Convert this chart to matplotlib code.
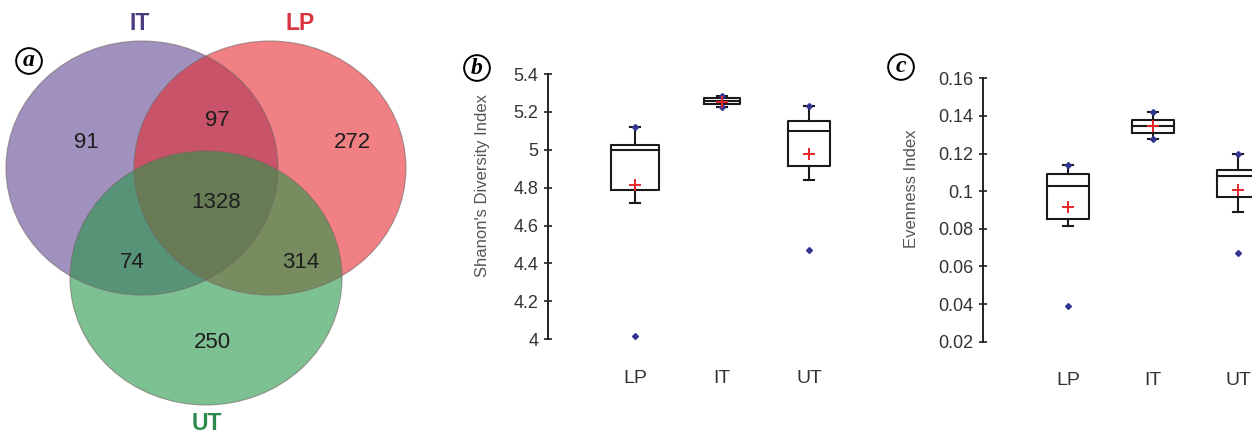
import matplotlib
matplotlib.use("Agg")
import matplotlib.pyplot as plt
from matplotlib.patches import Ellipse

# ---------------- data ----------------
venn_sets = ["IT", "LP", "UT"]
venn_region_labels = ["IT only", "IT&LP", "LP only", "all", "IT&UT", "LP&UT", "UT only"]
venn_counts = [91, 97, 272, 1328, 74, 314, 250]

groups = ["LP", "IT", "UT"]

shannon_q1 = [4.79, 5.243, 4.917]
shannon_med = [5.00, 5.260, 5.100]
shannon_q3 = [5.026, 5.272, 5.154]
shannon_whislo = [4.72, 5.225, 4.842]
shannon_whishi = [5.12, 5.284, 5.232]
shannon_mean = [4.816, 5.254, 4.977]
shannon_min = [4.02, 5.225, 4.47]
shannon_max = [5.12, 5.284, 5.232]
shannon_ticks = [4.0, 4.2, 4.4, 4.6, 4.8, 5.0, 5.2, 5.4]
shannon_ticklabels = ["4", "4.2", "4.4", "4.6", "4.8", "5", "5.2", "5.4"]

even_q1 = [0.085, 0.1309, 0.097]
even_med = [0.1027, 0.1346, 0.1081]
even_q3 = [0.1094, 0.1381, 0.1111]
even_whislo = [0.0815, 0.1277, 0.0891]
even_whishi = [0.1138, 0.1420, 0.1196]
even_mean = [0.0917, 0.1348, 0.1004]
even_min = [0.0392, 0.1277, 0.0669]
even_max = [0.1138, 0.1420, 0.1196]
even_ticks = [0.02, 0.04, 0.06, 0.08, 0.10, 0.12, 0.14, 0.16]
even_ticklabels = ["0.02", "0.04", "0.06", "0.08", "0.1", "0.12", "0.14", "0.16"]

# ---------------- figure ----------------
W, H = 1252, 434
DPI = 100
fig = plt.figure(figsize=(W / DPI, H / DPI), dpi=DPI)
plt.rcParams['font.family'] = ['Liberation Sans', 'DejaVu Sans']

def px_axes(x0, y_top, x1, y_bot):
    return fig.add_axes([x0 / W, 1 - y_bot / H, (x1 - x0) / W, (y_bot - y_top) / H])

# ---------------- Venn (a) ----------------
axv = fig.add_axes([0, 0, 420 / W, 1])
axv.set_xlim(0, 420)
axv.set_ylim(434, 0)
axv.axis("off")

ell_style = {
    "IT": dict(center=(142, 168), color=(97/255, 72/255, 147/255)),
    "LP": dict(center=(270, 168), color=(230/255, 43/255, 48/255)),
    "UT": dict(center=(206, 278), color=(38/255, 150/255, 72/255)),
}
for name in venn_sets:
    st = ell_style[name]
    axv.add_patch(Ellipse(st["center"], 272, 254, facecolor=st["color"], alpha=0.6,
                          edgecolor="none", zorder=2))
for name in venn_sets:
    st = ell_style[name]
    axv.add_patch(Ellipse(st["center"], 272, 254, facecolor="none",
                          edgecolor=(0.45, 0.4, 0.4), lw=0.8, alpha=0.6, zorder=3))

region_pos = [(86, 143), (217, 120), (352, 142), (216, 203), (132, 262), (301, 262), (212, 343)]
for (x, y), c in zip(region_pos, venn_counts):
    axv.text(x, y, str(c), ha="center", va="center", fontsize=16, color="#1e1e1e", zorder=5)

set_label_pos = {"IT": (140, 23), "LP": (300, 23), "UT": (207, 424)}
set_label_col = {"IT": "#4b3a80", "LP": "#d8343e", "UT": "#2e8a4c"}
for name in venn_sets:
    x, y = set_label_pos[name]
    axv.text(x, y, name, ha="center", va="center", fontsize=16.5, fontweight="bold",
             color=set_label_col[name])

# ---------------- box plots ----------------
def make_stats(q1, med, q3, wlo, whi, mean, mn, mx):
    out = []
    for i in range(len(q1)):
        out.append(dict(q1=q1[i], med=med[i], q3=q3[i], whislo=wlo[i], whishi=whi[i],
                        mean=mean[i], fliers=[mn[i], mx[i]]))
    return out

def draw_box(ax, stats, ticks, ticklabels, ylim, ylabel, widths, ylabel_xy):
    ax.bxp(stats, positions=[1, 2, 3], widths=widths, capwidths=0.12,
           showmeans=True, showfliers=True, patch_artist=False,
           boxprops=dict(color="#1a1a1a", lw=1.5),
           medianprops=dict(color="#1a1a1a", lw=1.5),
           whiskerprops=dict(color="#1a1a1a", lw=1.5),
           capprops=dict(color="#1a1a1a", lw=1.5),
           meanprops=dict(marker="+", markeredgecolor="#e5262b", markersize=9,
                          markeredgewidth=1.4, linestyle="none"),
           flierprops=dict(marker="D", markerfacecolor="#2f3590", markeredgecolor="#2f3590",
                           markersize=3.0, linestyle="none"))
    ax.set_xlim(0, 3.5)
    ax.set_ylim(*ylim)
    ax.set_yticks(ticks)
    ax.set_yticklabels(ticklabels)
    ax.set_xticks([1, 2, 3])
    ax.set_xticklabels(groups)
    for s in ["top", "right", "bottom"]:
        ax.spines[s].set_visible(False)
    ax.spines["left"].set_linewidth(1.4)
    ax.spines["left"].set_color("#222222")
    ax.tick_params(axis="y", direction="inout", length=6, width=1.2, color="#222222",
                   labelsize=13, labelcolor="#333333", pad=4)
    ax.tick_params(axis="x", length=0, labelsize=14, labelcolor="#333333", pad=22)
    ax.set_ylabel(ylabel, fontsize=12, color="#555555")
    ax.yaxis.set_label_coords(ylabel_xy[0], ylabel_xy[1])
    ax.patch.set_alpha(0)
    for art in ax.get_children():
        try:
            art.set_clip_on(False)
        except Exception:
            pass

axb = px_axes(548, 74, 548 + 87 * 3.5, 339.3)
draw_box(axb, make_stats(shannon_q1, shannon_med, shannon_q3, shannon_whislo, shannon_whishi,
                         shannon_mean, shannon_min, shannon_max),
         shannon_ticks, shannon_ticklabels, (4.0, 5.4), "Shanon's Diversity Index",
         [0.55, 0.42, 0.48], (-0.19, 0.58))

axc = px_axes(983, 78.3, 983 + 85 * 3.5, 341.7)
draw_box(axc, make_stats(even_q1, even_med, even_q3, even_whislo, even_whishi,
                         even_mean, even_min, even_max),
         even_ticks, even_ticklabels, (0.02, 0.16), "Evenness Index",
         [0.5, 0.5, 0.5], (-0.215, 0.58))

# ---------------- panel letters ----------------
for letter, (x, y) in zip(["a", "b", "c"], [(29, 61), (477, 68), (901, 67)]):
    fig.text(x / W, 1 - y / H, letter, ha="center", va="center", fontsize=17,
             fontweight="bold", fontstyle="italic", family="Liberation Serif",
             bbox=dict(boxstyle="circle,pad=0.1", fc="white", ec="black", lw=1.4))

fig.savefig("out.png", dpi=DPI)
